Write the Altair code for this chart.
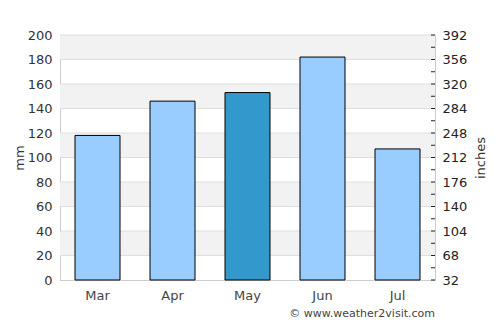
import altair as alt
import pandas as pd

months = ["Mar", "Apr", "May", "Jun", "Jul"]
rain_mm = [118, 146, 153, 182, 107]
highlight = [False, False, True, False, False]
band_lo = [20, 60, 100, 140, 180]
band_hi = [40, 80, 120, 160, 200]
grid_mm = [20, 40, 60, 80, 100, 120, 140, 160, 180, 200]
mm_labels = [0, 20, 40, 60, 80, 100, 120, 140, 160, 180, 200]
inch_labels = [32, 68, 104, 140, 176, 212, 248, 284, 320, 356, 392]
inch_ticks = [32, 50, 68, 86, 104, 122, 140, 158, 176, 194, 212, 230, 248,
              266, 284, 302, 320, 338, 356, 374, 392]

W, H = 375, 245
FONT = "DejaVu Sans"

bars_df = pd.DataFrame({"month": months, "mm": rain_mm, "hl": highlight})
bands_df = pd.DataFrame({"lo": band_lo, "hi": band_hi})
grid_df = pd.DataFrame({"g": grid_mm})
ticks_df = pd.DataFrame({"inch": inch_ticks})

yscale = alt.Scale(domain=[0, 200], nice=False)
yaxis = alt.Axis(values=mm_labels, ticks=False, grid=False,
                 domainColor="#cccccc", labelColor="#333333",
                 labelFontSize=13, labelFont=FONT, labelPadding=8,
                 titleFont=FONT, titleFontSize=13, titleFontWeight="normal",
                 titleColor="#333333", titlePadding=1)

bands = alt.Chart(bands_df).mark_rect(color="#f2f2f2").encode(
    x=alt.value(0), x2=alt.value(W),
    y=alt.Y("lo:Q", scale=yscale, title="mm", axis=yaxis), y2="hi:Q",
)

grid = alt.Chart(grid_df).mark_rule(color="#dedede", strokeWidth=1).encode(
    x=alt.value(0), x2=alt.value(W),
    y=alt.Y("g:Q", scale=yscale, title="mm", axis=yaxis),
)

bars = alt.Chart(bars_df).mark_bar(stroke="black", strokeWidth=1).encode(
    x=alt.X("month:N", sort=months, title=None,
            scale=alt.Scale(paddingInner=0.4, paddingOuter=0.2),
            axis=alt.Axis(labelAngle=0, ticks=False, labelPadding=9,
                          domainColor="#cccccc", labelColor="#444444",
                          labelFontSize=13, labelFont=FONT)),
    y=alt.Y("mm:Q", scale=yscale, title="mm", axis=yaxis),
    color=alt.Color("hl:N", legend=None,
                    scale=alt.Scale(domain=[False, True], range=["#99ccff", "#3399cc"])),
)

credit = alt.Chart(pd.DataFrame({"t": ["© www.weather2visit.com"]})).mark_text(
    align="right", baseline="middle", font=FONT, fontSize=11, color="#444444"
).encode(x=alt.value(W), y=alt.value(H + 34), text="t:N")

left = alt.layer(bands, grid, bars, credit)

right = alt.Chart(ticks_df).mark_rule(color="#222222", strokeWidth=1).encode(
    x=alt.value(W - 4), x2=alt.value(W),
    y=alt.Y("inch:Q", scale=alt.Scale(domain=[32, 392], nice=False), title="inches",
            axis=alt.Axis(orient="right", values=inch_labels, ticks=False, grid=False,
                          domainColor="#cccccc", labelColor="#222222",
                          labelFontSize=13, labelFont=FONT, labelPadding=7,
                          titleFont=FONT, titleFontSize=13, titleFontWeight="normal",
                          titleColor="#333333", titleAngle=270, titleBaseline="top",
                          titlePadding=8)),
)

chart = alt.layer(left, right).resolve_scale(y="independent").properties(
    width=W, height=H,
    padding={"left": 60, "top": 35, "right": 65, "bottom": 45},
    autosize="none",
).configure_view(stroke=None).configure(background="white")

chart.save("out.html", embed_options={"renderer": "svg", "actions": False})
